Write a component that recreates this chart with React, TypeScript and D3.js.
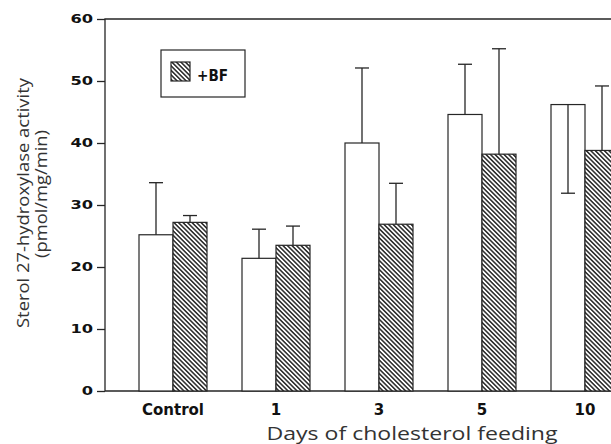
import { useEffect, useRef } from 'react'
import * as d3 from 'd3'

const categories = ['Control', '1', '3', '5', '10']
const controlMeans = [25.2, 21.4, 40.0, 44.6, 46.2]
const controlErrors = [8.4, 4.7, 12.1, 8.1, 14.3]
const controlErrorDir = [1, 1, 1, 1, -1]
const bfMeans = [27.2, 23.5, 26.9, 38.2, 38.8]
const bfErrors = [1.1, 3.1, 6.6, 17.0, 10.4]
const bfErrorDir = [1, 1, 1, 1, 1]
const yTicks = [0, 10, 20, 30, 40, 50, 60]
const seriesKeys = ['control', 'bf']

type Bar = {
  cat: string
  key: string
  value: number
  err: number
  dir: number
}

const App = () => {
  const svgRef = useRef<SVGSVGElement | null>(null)

  useEffect(() => {
    if (!svgRef.current) return
    const svg = d3.select(svgRef.current)
    svg.selectAll('*').remove()

    const width = 611
    const height = 444
    const margin = { top: 19, left: 105, bottom: 53 }
    const ink = '#262626'

    const x = d3
      .scaleBand<string>()
      .domain(categories)
      .range([139, 619])
      .paddingInner(35 / 103)
      .paddingOuter(0)

    const xInner = d3.scaleBand<string>().domain(seriesKeys).range([0, x.bandwidth()])

    const y = d3
      .scaleLinear()
      .domain([0, 60])
      .range([height - margin.bottom, margin.top])

    const bars: Bar[] = []
    categories.forEach((cat, i) => {
      bars.push({ cat, key: 'control', value: controlMeans[i], err: controlErrors[i], dir: controlErrorDir[i] })
      bars.push({ cat, key: 'bf', value: bfMeans[i], err: bfErrors[i], dir: bfErrorDir[i] })
    })

    const defs = svg.append('defs')
    const pattern = defs
      .append('pattern')
      .attr('id', 'hatch')
      .attr('patternUnits', 'userSpaceOnUse')
      .attr('width', 3.2)
      .attr('height', 10)
      .attr('patternTransform', 'rotate(-45)')
    pattern.append('rect').attr('width', 3.2).attr('height', 10).attr('fill', '#fff')
    pattern
      .append('line')
      .attr('x1', 0.8)
      .attr('x2', 0.8)
      .attr('y1', 0)
      .attr('y2', 10)
      .attr('stroke', ink)
      .attr('stroke-width', 1.5)

    // frame: top and bottom lines run off the right edge
    svg
      .append('path')
      .attr('d', `M${width + 5},${y(60)}H${margin.left}V${y(0)}H${width + 5}`)
      .attr('fill', 'none')
      .attr('stroke', ink)
      .attr('stroke-width', 1.3)

    const xb = (d: Bar) => (x(d.cat) ?? 0) + (xInner(d.key) ?? 0)

    svg
      .append('g')
      .selectAll('rect')
      .data(bars)
      .enter()
      .append('rect')
      .attr('x', xb)
      .attr('y', (d) => y(d.value))
      .attr('width', xInner.bandwidth())
      .attr('height', (d) => y(0) - y(d.value))
      .attr('fill', (d) => (d.key === 'bf' ? 'url(#hatch)' : '#fff'))
      .attr('stroke', ink)
      .attr('stroke-width', 1.2)

    const err = svg.append('g').attr('stroke', ink).attr('stroke-width', 1.3)
    bars.forEach((d) => {
      const cx = xb(d) + xInner.bandwidth() / 2
      const end = y(d.value + d.dir * d.err)
      err.append('line').attr('x1', cx).attr('x2', cx).attr('y1', y(d.value)).attr('y2', end)
      err.append('line').attr('x1', cx - 7).attr('x2', cx + 7).attr('y1', end).attr('y2', end)
    })

    const yAxis = svg
      .append('g')
      .attr('transform', `translate(${margin.left},0)`)
      .call(d3.axisLeft(y).tickValues(yTicks).tickSize(8).tickSizeOuter(0).tickPadding(4))
    yAxis.select('.domain').remove()
    yAxis.selectAll('line').attr('stroke', ink).attr('stroke-width', 1.3)
    yAxis
      .selectAll<SVGTextElement, number>('text')
      .attr('fill', '#111')
      .style('font-family', 'DejaVu Sans')
      .style('font-weight', 'bold')
      .style('font-size', '12px')
      .attr('textLength', (d) => String(d).length * 11.3)
      .attr('lengthAdjust', 'spacingAndGlyphs')

    svg
      .append('g')
      .selectAll('text')
      .data(categories)
      .enter()
      .append('text')
      .attr('x', (d) => (x(d) ?? 0) + x.bandwidth() / 2)
      .attr('y', 415)
      .attr('text-anchor', 'middle')
      .attr('fill', '#111')
      .style('font-family', 'DejaVu Sans')
      .style('font-weight', 'bold')
      .style('font-size', '15px')
      .text((d) => d)

    svg
      .append('text')
      .attr('x', 412)
      .attr('y', 440)
      .attr('text-anchor', 'middle')
      .attr('fill', '#333')
      .attr('textLength', 291)
      .attr('lengthAdjust', 'spacingAndGlyphs')
      .style('font-family', 'Open Sans')
      .style('font-size', '18px')
      .text('Days of cholesterol feeding')

    svg
      .append('text')
      .attr('transform', 'translate(29,203) rotate(-90)')
      .attr('text-anchor', 'middle')
      .attr('fill', '#333')
      .attr('textLength', 250)
      .attr('lengthAdjust', 'spacingAndGlyphs')
      .style('font-family', 'Open Sans')
      .style('font-size', '17px')
      .text('Sterol 27-hydroxylase activity')

    svg
      .append('text')
      .attr('transform', 'translate(47,194) rotate(-90)')
      .attr('text-anchor', 'middle')
      .attr('fill', '#333')
      .attr('textLength', 128)
      .attr('lengthAdjust', 'spacingAndGlyphs')
      .style('font-family', 'Open Sans')
      .style('font-size', '17px')
      .text('(pmol/mg/min)')

    const legend = svg.append('g')
    legend
      .append('rect')
      .attr('x', 161)
      .attr('y', 50)
      .attr('width', 84)
      .attr('height', 47)
      .attr('fill', '#fff')
      .attr('stroke', ink)
      .attr('stroke-width', 1.2)
    legend
      .append('rect')
      .attr('x', 171)
      .attr('y', 62)
      .attr('width', 19)
      .attr('height', 19)
      .attr('fill', 'url(#hatch)')
      .attr('stroke', ink)
      .attr('stroke-width', 1.2)
    legend
      .append('text')
      .attr('x', 197)
      .attr('y', 81)
      .attr('fill', '#111')
      .attr('textLength', 31)
      .attr('lengthAdjust', 'spacingAndGlyphs')
      .style('font-family', 'DejaVu Sans')
      .style('font-weight', 'bold')
      .style('font-size', '15px')
      .text('+BF')
  }, [])

  return (
    <svg
      ref={svgRef}
      width={611}
      height={444}
      style={{ position: 'absolute', left: 0, top: 0, background: '#fff' }}
    />
  )
}

export default App
